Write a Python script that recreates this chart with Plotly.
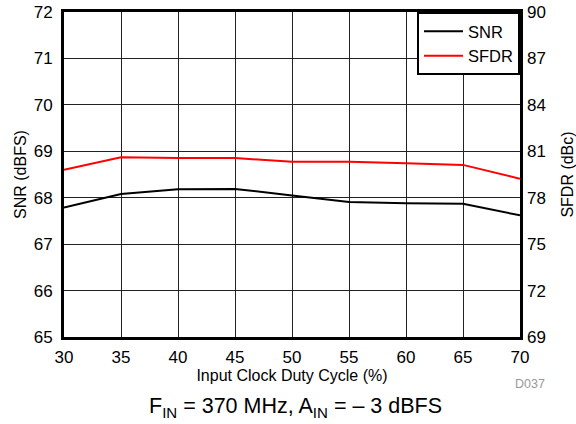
import plotly.graph_objects as go

duty = [30, 35, 40, 45, 50, 55, 60, 65, 70]
snr = [67.79, 68.08, 68.18, 68.19, 68.05, 67.91, 67.88, 67.87, 67.62]
sfdr = [79.8, 80.62, 80.56, 80.56, 80.33, 80.32, 80.23, 80.12, 79.23]

snr_ticks = [65, 66, 67, 68, 69, 70, 71, 72]
sfdr_ticks = [69, 72, 75, 78, 81, 84, 87, 90]

font = "Liberation Sans, Arial, sans-serif"

fig = go.Figure()
fig.add_trace(go.Scatter(x=duty, y=snr, mode="lines", name="SNR",
                         line={'color': 'black', 'width': 2}))
fig.add_trace(go.Scatter(x=duty, y=sfdr, mode="lines", name="SFDR", yaxis="y2",
                         line={'color': 'red', 'width': 2}))

fig.update_layout(
    width=576, height=424,
    margin={'l': 64, 'r': 56, 't': 12, 'b': 87},
    paper_bgcolor="white", plot_bgcolor="white",
    font={'family': font, 'color': 'black', 'size': 16},
    xaxis={
        'range': [30, 70], 'tickvals': duty, 'ticks': '',
        'showgrid': True, 'gridcolor': '#222', 'gridwidth': 1,
        'showline': True, 'linecolor': 'black', 'linewidth': 3, 'mirror': True,
        'zeroline': False, 'automargin': False, 'ticklabelstandoff': 3,
        'ticklabeloverflow': 'allow',
        'tickfont': {'size': 17},
        'title': {'text': 'Input Clock Duty Cycle (%)', 'font': {'size': 16}, 'standoff': 0},
    },
    yaxis={
        'range': [65, 72], 'tickvals': snr_ticks, 'ticks': '',
        'showgrid': True, 'gridcolor': '#222', 'gridwidth': 1,
        'showline': True, 'linecolor': 'black', 'linewidth': 3, 'mirror': True,
        'zeroline': False, 'automargin': False, 'ticklabelstandoff': 5,
        'ticklabeloverflow': 'allow',
        'tickfont': {'size': 17},
        'title': {'text': 'SNR (dBFS)', 'font': {'size': 16}, 'standoff': 4},
    },
    yaxis2={
        'range': [69, 90], 'tickvals': sfdr_ticks, 'ticks': '',
        'overlaying': 'y', 'side': 'right', 'showgrid': False, 'zeroline': False,
        'automargin': False, 'ticklabelstandoff': 6,
        'ticklabeloverflow': 'allow',
        'tickfont': {'size': 17},
        'title': {'text': 'SFDR (dBc)', 'font': {'size': 16}, 'standoff': 20},
    },
    legend={
        'x': 1, 'y': 1, 'xanchor': 'right', 'yanchor': 'top',
        'bgcolor': 'white', 'bordercolor': 'black', 'borderwidth': 2,
        'font': {'size': 16.5}, 'tracegroupgap': 0, 'itemwidth': 39,
    },
    annotations=[
        {'text': 'D037', 'xref': 'paper', 'yref': 'paper', 'x': 1.0586, 'y': -0.1455,
         'xanchor': 'right', 'yanchor': 'middle', 'showarrow': False,
         'font': {'size': 12.5, 'color': '#999'}},
        {'text': 'F<sub>IN</sub> = 370 MHz, A<sub>IN</sub> = – 3 dBFS',
         'xref': 'paper', 'yref': 'paper', 'x': 0.5077, 'y': -0.2154,
         'xanchor': 'center', 'yanchor': 'middle', 'showarrow': False,
         'font': {'size': 21.5}},
    ],
)

# drop the default body margin so the figure fills the window
fig.write_html("out.html", config={'displayModeBar': False},
               post_script="document.body.style.margin='0';")
